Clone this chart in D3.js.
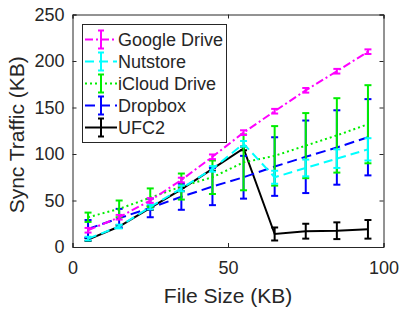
<!DOCTYPE html>
<html><head><meta charset="utf-8">
<script src="https://d3js.org/d3.v7.min.js"></script>
<style>body{margin:0;background:#fff}svg{display:block}text{font-family:"Liberation Sans",Arial,Helvetica,sans-serif;fill:#262626}</style>
</head><body>
<script>
const fileSizes = [5,15,25,35,45,55,65,75,85,95];
const googleDrive = [18,32,50,72,97,123,146,168.5,189,210];
const googleDriveErr = [2.5,2.5,2.5,2.5,2.5,2.5,2.5,2.5,2.5,2.5];
const nutstore = [9,22,43,63,84,111,75,85,95,105];
const nutstoreErr = [2,2,2.5,3,3,3,7,9,10,12];
const icloud = [32,41,53,65,75,91,98,109,120,132];
const icloudErr = [5,9,10,14,18,30,32,35,40,42];
const dropbox = [19.5,31,42,54,65,75,86.5,97,107,118];
const dropboxErr = [9.5,10,10,14,20,23,31.5,39,40,41];
const ufc2 = [8,22,42,62,84,106,14,17,17.5,19];
const ufc2Err = [1.5,1.5,2,2,2,2,7,8,9,10];
const xTicks = [0,50,100];
const yTicks = [0,50,100,150,200,250];
const seriesNames = ["Google Drive","Nutstore","iCloud Drive","Dropbox","UFC2"];

const series = [
  {name:"Google Drive", v:googleDrive, e:googleDriveErr, color:"#ff00ff", dash:"8,3,2,3"},
  {name:"Nutstore", v:nutstore, e:nutstoreErr, color:"#00ffff", dash:"9,5"},
  {name:"iCloud Drive", v:icloud, e:icloudErr, color:"#00ee00", dash:"2,3"},
  {name:"Dropbox", v:dropbox, e:dropboxErr, color:"#0000ff", dash:"10,5"},
  {name:"UFC2", v:ufc2, e:ufc2Err, color:"#000000", dash:null}
];
const drawOrder = ["UFC2","Dropbox","iCloud Drive","Nutstore","Google Drive"];

const W=401,H=310, L=72.5, R=383.5, T=14.5, B=247;
const svg = d3.select("body").append("svg").attr("width",W).attr("height",H);
const x = d3.scaleLinear().domain([0,100]).range([L,R]);
const y = d3.scaleLinear().domain([0,250]).range([B,T]);

const tickLen = 4;
// axes
const gx = svg.append("g").attr("transform",`translate(0,${B})`)
  .call(d3.axisBottom(x).tickValues(xTicks).tickSize(-tickLen).tickPadding(14));
const gy = svg.append("g").attr("transform",`translate(${L},0)`)
  .call(d3.axisLeft(y).tickValues(yTicks).tickSize(-tickLen).tickPadding(8));
const gxt = svg.append("g").attr("transform",`translate(0,${T})`)
  .call(d3.axisTop(x).tickValues(xTicks).tickSize(-tickLen).tickFormat(""));
const gyr = svg.append("g").attr("transform",`translate(${R},0)`)
  .call(d3.axisRight(y).tickValues(yTicks).tickSize(-tickLen).tickFormat(""));
[gx,gy,gxt,gyr].forEach(g=>{
  g.selectAll("path.domain").attr("stroke","#262626").attr("stroke-width",1);
  g.selectAll(".tick line").attr("stroke","#262626").attr("stroke-width",1);
  g.selectAll(".tick text").attr("font-size",18).attr("fill","#262626").style("font-family",'"Liberation Sans",Arial,sans-serif');
});

// data
const line = d3.line().x((d,i)=>x(fileSizes[i])).y(d=>y(d));
const capW = 3.5;
drawOrder.forEach(n=>{
  const s = series.find(d=>d.name===n);
  const g = svg.append("g");
  g.append("path").attr("d",line(s.v)).attr("fill","none").attr("stroke",s.color)
    .attr("stroke-width",2).attr("stroke-dasharray",s.dash);
  s.v.forEach((v,i)=>{
    const cx = x(fileSizes[i]), y1=y(v+s.e[i]), y0=y(v-s.e[i]);
    g.append("line").attr("x1",cx).attr("x2",cx).attr("y1",y1).attr("y2",y0).attr("stroke",s.color).attr("stroke-width",2);
    g.append("line").attr("x1",cx-capW).attr("x2",cx+capW).attr("y1",y1).attr("y2",y1).attr("stroke",s.color).attr("stroke-width",2);
    g.append("line").attr("x1",cx-capW).attr("x2",cx+capW).attr("y1",y0).attr("y2",y0).attr("stroke",s.color).attr("stroke-width",2);
  });
});

// legend
const lg = svg.append("g");
lg.append("rect").attr("x",82.5).attr("y",24.5).attr("width",144).attr("height",118)
  .attr("fill","#fff").attr("stroke","#262626").attr("stroke-width",1);
seriesNames.forEach((n,i)=>{
  const s = series.find(d=>d.name===n);
  const cy = 39.5 + i*22;
  lg.append("line").attr("x1",85).attr("x2",117).attr("y1",cy).attr("y2",cy)
    .attr("stroke",s.color).attr("stroke-width",2).attr("stroke-dasharray",s.dash);
  lg.append("line").attr("x1",101).attr("x2",101).attr("y1",cy-9).attr("y2",cy+9).attr("stroke",s.color).attr("stroke-width",2);
  lg.append("line").attr("x1",98).attr("x2",104).attr("y1",cy-9).attr("y2",cy-9).attr("stroke",s.color).attr("stroke-width",2);
  lg.append("line").attr("x1",98).attr("x2",104).attr("y1",cy+9).attr("y2",cy+9).attr("stroke",s.color).attr("stroke-width",2);
  lg.append("text").attr("x",118).attr("y",cy+6.5).attr("font-size",18).text(n);
});

// axis labels
svg.append("text").attr("x",(L+R)/2).attr("y",303).attr("text-anchor","middle").attr("font-size",21).text("File Size (KB)");
svg.append("text").attr("transform",`translate(24,${(T+B)/2+4}) rotate(-90)`).attr("text-anchor","middle").attr("font-size",21).text("Sync Traffic (KB)");
</script>
</body></html>
